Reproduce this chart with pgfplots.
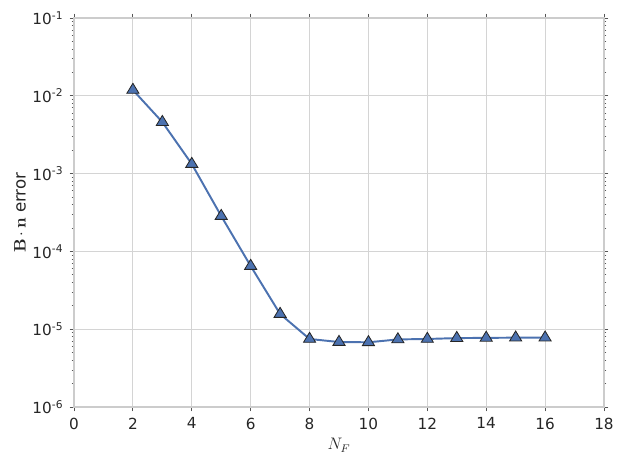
\documentclass[border=0pt]{standalone}
\usepackage[no-math]{fontspec}
\setmainfont{DejaVu Sans}
\newfontfamily\lmrb{lmroman10-bold.otf}
\usepackage{pgfplots}
\pgfplotsset{compat=1.18}
\definecolor{cLine}{HTML}{4C72B0}
\definecolor{cEdge}{HTML}{262626}
\definecolor{cGrid}{HTML}{D4D4D4}
\definecolor{cSpine}{HTML}{CCCCCC}
\definecolor{cTick}{HTML}{555555}
\definecolor{cText}{HTML}{262626}

\begin{document}
\begin{tikzpicture}
\begin{axis}[
    name=ax,
    scale only axis,
    width=381.6pt, height=280.1pt,
    ymode=log,
    xmin=0, xmax=18,
    ymin=1e-6, ymax=1e-1,
    xtick={0,2,4,6,8,10,12,14,16,18},
    ytick={1e-6,1e-5,1e-4,1e-3,1e-2,1e-1},
    yticklabels={10\textsuperscript{-6},10\textsuperscript{-5},10\textsuperscript{-4},
                 10\textsuperscript{-3},10\textsuperscript{-2},10\textsuperscript{-1}},
    tick label style={font=\fontsize{11}{13}\selectfont, text=cText},
    /pgf/number format/assume math mode=true,
    xticklabel style={yshift=-1pt},
    yticklabel style={xshift=-1pt},
    tick align=outside,
    tick pos=both,
    major tick length=3.2pt,
    minor tick length=1.8pt,
    every tick/.style={draw=cTick, line width=0.6pt},
    grid=major,
    major grid style={draw=cGrid, line width=0.75pt},
    axis line style={draw=cSpine, line width=0.9pt},
    xlabel={$N_F$},
    ylabel={{\lmrb B}$\,\cdot\,${\lmrb n} error},
    label style={font=\fontsize{12}{14}\selectfont, text=cText},
    xlabel style={at={(axis description cs:0.5,-0.098)}, anchor=center},
    ylabel style={at={(axis description cs:-0.102,0.5)}, anchor=center},
]
\addplot[color=cLine, line width=1.4pt, mark=triangle*, mark size=4.8pt,
         mark options={fill=cLine, draw=cEdge, line width=0.6pt, xscale=1.05}] coordinates {
    (2,  1.19e-2)
    (3,  4.6e-3)
    (4,  1.33e-3)
    (5,  2.85e-4)
    (6,  6.5e-5)
    (7,  1.57e-5)
    (8,  7.5e-6)
    (9,  6.85e-6)
    (10, 6.8e-6)
    (11, 7.4e-6)
    (12, 7.5e-6)
    (13, 7.7e-6)
    (14, 7.75e-6)
    (15, 7.8e-6)
    (16, 7.8e-6)
};
\end{axis}
\pgfresetboundingbox
\path[use as bounding box] ([shift={(-53.3pt,-43.2pt)}]ax.south west)
    rectangle ([shift={(13.7pt,13pt)}]ax.north east);
\end{tikzpicture}
\end{document}
